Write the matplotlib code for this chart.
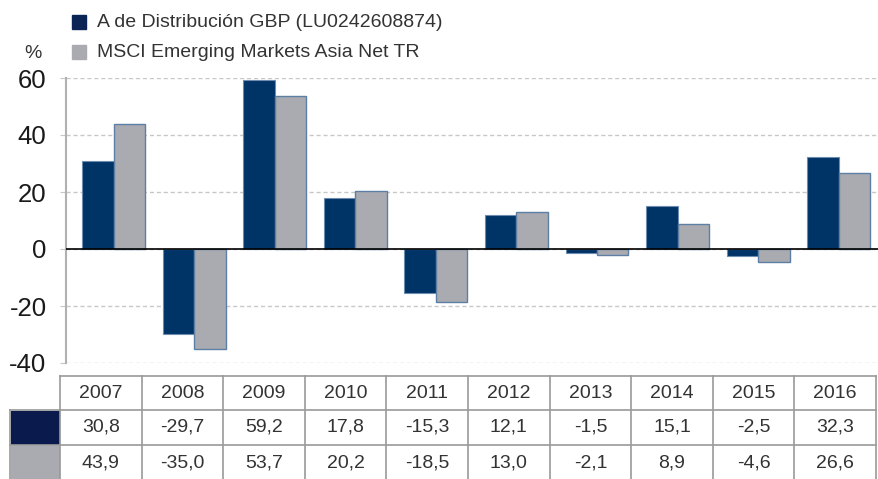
import matplotlib.pyplot as plt
import numpy as np
from matplotlib.patches import Rectangle

years = ['2007', '2008', '2009', '2010', '2011', '2012', '2013', '2014', '2015', '2016']
fund = [30.8, -29.7, 59.2, 17.8, -15.3, 12.1, -1.5, 15.1, -2.5, 32.3]
bench = [43.9, -35.0, 53.7, 20.2, -18.5, 13.0, -2.1, 8.9, -4.6, 26.6]
fund_label = 'A de Distribución GBP (LU0242608874)'
bench_label = 'MSCI Emerging Markets Asia Net TR'

navy = '#003366'
grey = '#a9abb0'
txt = '#333333'
plt.rcParams['font.family'] = ['Liberation Sans', 'DejaVu Sans']

W, H = 879, 479
fig = plt.figure(figsize=(W / 100, H / 100), dpi=100)

ax = fig.add_axes([66 / W, 1 - 363 / H, 1 - 66 / W, 285 / H])
x = np.arange(len(years))
w = 0.39
ax.bar(x - w / 2, fund, w, color=navy, edgecolor='#6d8cb0', linewidth=0.8, zorder=3)
ax.bar(x + w / 2, bench, w, color=grey, edgecolor='#5d7fa6', linewidth=1.0, zorder=3)
ax.set_xlim(-0.59, 9.5)
ax.set_ylim(-40, 60)
ax.set_yticks([-40, -20, 0, 20, 40, 60])
ax.set_yticklabels(['-40', '-20', '0', '20', '40', '60'], fontsize=18.5, color='#1a1a1a')
ax.set_xticks([])
ax.grid(axis='y', color='#c8c8c8', linestyle=(0, (3, 2)), linewidth=1, zorder=0)
ax.axhline(0, color='black', linewidth=1.2, zorder=4)
for s in ['top', 'right', 'bottom']:
    ax.spines[s].set_visible(False)
ax.spines['left'].set_color('#b0b0b0')
ax.spines['left'].set_linewidth(1.5)
ax.tick_params(axis='y', length=4, color='#c8c8c8', pad=10)

# legend and unit label, drawn in pixel space
ov = fig.add_axes([0, 0, 1, 1])
ov.set_xlim(0, W)
ov.set_ylim(H, 0)
ov.axis('off')
ov.patch.set_alpha(0)
ov.add_patch(Rectangle((72, 15), 14, 14, color='#0b2456'))
ov.add_patch(Rectangle((72, 45), 14, 14, color=grey))
ov.text(97, 22, fund_label, fontsize=14, color=txt, va='center')
ov.text(97, 52, bench_label, fontsize=14, color=txt, va='center')
ov.text(24, 53, '%', fontsize=14, color=txt, va='center')

# data table
x0, cw = 60, 81.6
rows = [376, 410, 445, 480]
lc = '#9a9a9a'
for r in rows[:-1]:
    ov.plot([x0, x0 + cw * len(years)], [r, r], color=lc, lw=1.2)
ov.plot([10, x0], [rows[1], rows[1]], color=lc, lw=1.2)
ov.plot([10, x0], [rows[2], rows[2]], color=lc, lw=1.2)
for i in range(len(years) + 1):
    ov.plot([x0 + cw * i] * 2, [rows[0], rows[3]], color=lc, lw=1.2)
ov.plot([10, 10], [rows[1], rows[3]], color=lc, lw=1.2)
ov.add_patch(Rectangle((11, rows[1] + 1), x0 - 12, rows[2] - rows[1] - 2, color='#0a1a4c'))
ov.add_patch(Rectangle((11, rows[2] + 1), x0 - 12, rows[3] - rows[2] - 2, color=grey))


def fmt(v):
    return f'{v:.1f}'.replace('.', ',')


for i, yr in enumerate(years):
    cx = x0 + cw * (i + 0.5)
    ov.text(cx, (rows[0] + rows[1]) / 2, yr, fontsize=14, color=txt, ha='center', va='center')
    ov.text(cx, (rows[1] + rows[2]) / 2, fmt(fund[i]), fontsize=14, color=txt, ha='center', va='center')
    ov.text(cx, (rows[2] + rows[3]) / 2 + 1, fmt(bench[i]), fontsize=14, color=txt, ha='center', va='center')

fig.savefig('out.png', dpi=100)
